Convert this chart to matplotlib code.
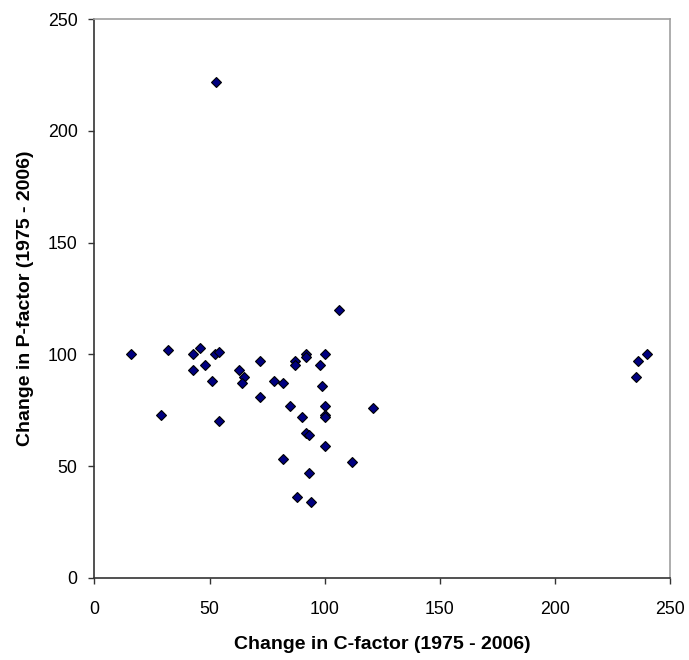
import matplotlib
matplotlib.use("Agg")
import matplotlib.pyplot as plt

# change in C-factor vs change in P-factor, 1975 - 2006
c_change = [16, 32, 29, 43, 46, 43, 48, 52.5, 54, 51, 54,
            63, 65, 64, 72, 72, 78, 82, 85, 82, 87, 87,
            90, 92, 92, 92, 93, 93, 88, 94, 98, 100, 99,
            100, 100, 100, 100, 112, 121, 106, 240, 236, 235, 53]
p_change = [100, 102, 73, 100, 103, 93, 95, 100, 101, 88, 70,
            93, 90, 87, 97, 81, 88, 87, 77, 53, 97, 95,
            72, 100, 99, 65, 64, 47, 36, 34, 95, 100, 86,
            77, 73, 72, 59, 52, 76, 120, 100, 97, 90, 222]

xticks = [0, 50, 100, 150, 200, 250]
yticks = [0, 50, 100, 150, 200, 250]

plt.rcParams["font.family"] = ["Liberation Sans", "DejaVu Sans"]

fig = plt.figure(figsize=(6.89, 6.60), dpi=100)
ax = fig.add_axes([0.1369, 0.1247, 0.836, 0.8461])

ax.plot(c_change, p_change, linestyle="none", marker="D", markersize=5,
        markerfacecolor="#000080", markeredgecolor="black",
        markeredgewidth=0.8, clip_on=False)

ax.set_xlim(0, 250)
ax.set_ylim(0, 250)
ax.set_xticks(xticks)
ax.set_yticks(yticks)

for side in ("left", "bottom"):
    ax.spines[side].set_color("#333333")
    ax.spines[side].set_linewidth(1.2)
for side in ("top", "right"):
    ax.spines[side].set_color("#a0a0a0")
    ax.spines[side].set_linewidth(1.2)

ax.tick_params(axis="both", direction="out", length=4.5, width=1,
               color="#333333", labelsize=12.8)
ax.tick_params(axis="x", pad=12)
ax.tick_params(axis="y", pad=7.5)

ax.set_xlabel("Change in C-factor (1975 - 2006)", fontsize=14,
              fontweight="bold", labelpad=13)
ax.set_ylabel("Change in P-factor (1975 - 2006)", fontsize=14,
              fontweight="bold", labelpad=10)

fig.savefig("out.png", dpi=100)
